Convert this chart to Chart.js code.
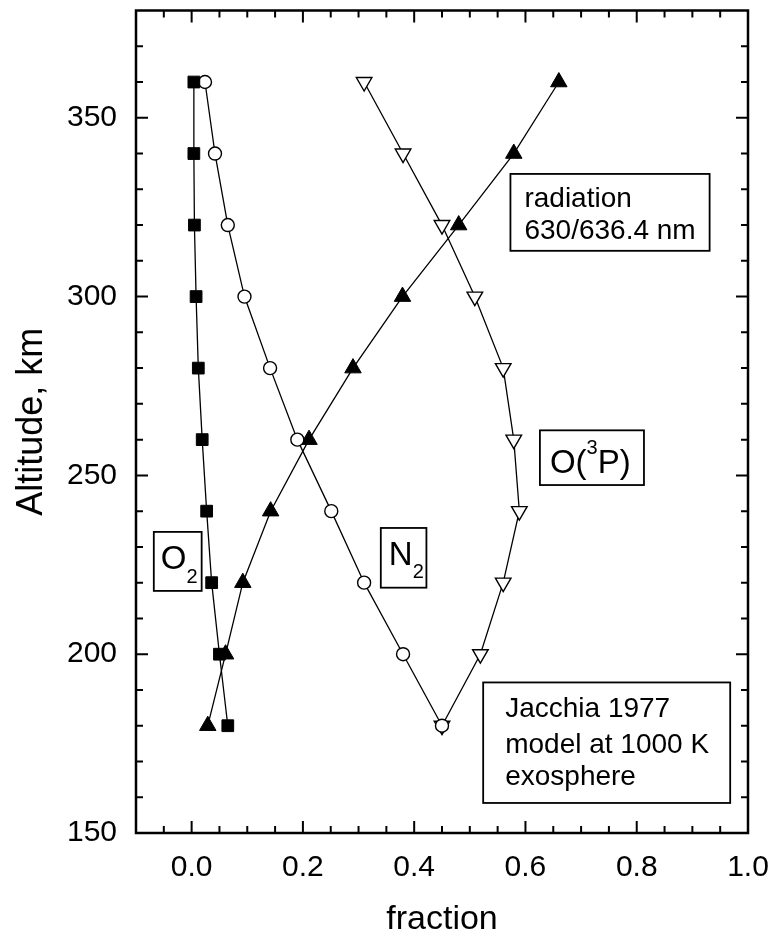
<!DOCTYPE html>
<html>
<head>
<meta charset="utf-8">
<script src="https://cdn.jsdelivr.net/npm/chart.js@4.4.1/dist/chart.umd.min.js"></script>
<style>
  html, body { margin: 0; padding: 0; background: #fff; }
  #wrap { width: 772px; height: 940px; }
</style>
</head>
<body>
<div id="wrap"><canvas id="chart" width="772" height="940"></canvas></div>
<script>
// altitude rows shared by all four profiles (km)
const altitudes = [360, 340, 320, 300, 280, 260, 240, 220, 200, 180];

// fractions, one value per altitude row
const o2Frac  = [0.004, 0.004, 0.005, 0.008, 0.012, 0.019, 0.027, 0.036, 0.050, 0.065];
const n2Frac  = [0.024, 0.042, 0.065, 0.095, 0.141, 0.190, 0.251, 0.310, 0.380, 0.450];
const radFrac = [0.660, 0.579, 0.480, 0.379, 0.290, 0.211, 0.142, 0.092, 0.061, 0.029];
const o3pFrac = [0.310, 0.380, 0.450, 0.509, 0.560, 0.579, 0.589, 0.560, 0.519, 0.450];

// axis tick labels
const xTicks = [0.0, 0.2, 0.4, 0.6, 0.8, 1.0];
const yTicks = [150, 200, 250, 300, 350];

const FONT = "'Liberation Sans', Arial, Helvetica, sans-serif";

// boxed annotations, corners given in data units
const notes = [
    { x0: 0.573, x1: 0.931, y0: 334.3, y1: 312.8, pad: 14,
      lines: [{ dy: 33, runs: [['radiation', 28, 0]] },
              { dy: 65, runs: [['630/636.4 nm', 28, 0]] }] },
    { x0: 0.626, x1: 0.813, y0: 262.6, y1: 247.3, pad: 10,
      lines: [{ dy: 43, runs: [['O(', 33, 0], ['3', 20, -19], ['P)', 33, 0]] }] },
    { x0: 0.524, x1: 0.968, y0: 192.1, y1: 158.4, pad: 22,
      lines: [{ dy: 35, runs: [['Jacchia 1977', 28, 0]] },
              { dy: 71, runs: [['model at 1000 K', 28, 0]] },
              { dy: 103, runs: [['exosphere', 28, 0]] }] },
    { x0: -0.068, x1: 0.018, y0: 234.2, y1: 217.7, pad: 7,
      lines: [{ dy: 37, runs: [['O', 33, 0], ['2', 20, 14]] }] },
    { x0: 0.340, x1: 0.422, y0: 235.3, y1: 218.6, pad: 8,
      lines: [{ dy: 37, runs: [['N', 33, 0], ['2', 20, 13]] }] }
];

function pts(fracs) {
    return fracs.map((f, i) => ({ x: f, y: altitudes[i] }));
}

// drop the label overhang padding so the plot box sits where the layout says
function noOverhang(s) {
    s.paddingTop = 0; s.paddingBottom = 0;
    s.paddingLeft = 0; s.paddingRight = 0;
}

// frame with inward ticks on all four sides, plus the text boxes
const frameAndNotes = {
    id: 'frameAndNotes',
    afterDatasetsDraw(chart) {
        const { ctx, chartArea: a, scales: { x, y } } = chart;
        ctx.save();
        ctx.strokeStyle = '#000';
        ctx.lineWidth = 2;
        ctx.beginPath();
        for (let k = -1; k < 20; k++) {
            const px = x.getPixelForValue(k * 0.05);
            const len = k % 4 === 0 ? 12 : 7;
            ctx.moveTo(px, a.bottom); ctx.lineTo(px, a.bottom - len);
            ctx.moveTo(px, a.top); ctx.lineTo(px, a.top + len);
        }
        for (let v = 160; v < 380; v += 10) {
            const py = y.getPixelForValue(v);
            const len = v % 50 === 0 ? 12 : 7;
            ctx.moveTo(a.left, py); ctx.lineTo(a.left + len, py);
            ctx.moveTo(a.right, py); ctx.lineTo(a.right - len, py);
        }
        ctx.stroke();
        ctx.lineWidth = 2.5;
        ctx.strokeRect(a.left, a.top, a.right - a.left, a.bottom - a.top);

        notes.forEach(n => {
            const l = x.getPixelForValue(n.x0), r = x.getPixelForValue(n.x1);
            const t = y.getPixelForValue(n.y0), b = y.getPixelForValue(n.y1);
            ctx.fillStyle = '#fff';
            ctx.fillRect(l, t, r - l, b - t);
            ctx.lineWidth = 1.8;
            ctx.strokeRect(l, t, r - l, b - t);
            ctx.fillStyle = '#000';
            ctx.textAlign = 'left';
            ctx.textBaseline = 'alphabetic';
            n.lines.forEach(line => {
                let cx = l + n.pad;
                line.runs.forEach(([txt, size, shift]) => {
                    ctx.font = size + 'px ' + FONT;
                    ctx.fillText(txt, cx, t + line.dy + shift);
                    cx += ctx.measureText(txt).width;
                });
            });
        });
        ctx.restore();
    }
};

new Chart(document.getElementById('chart'), {
    type: 'scatter',
    data: {
        datasets: [
            {
                label: 'O2',
                data: pts(o2Frac),
                showLine: true,
                borderColor: '#000',
                borderWidth: 1.3,
                pointStyle: 'rect',
                pointRadius: 8.3,
                pointBackgroundColor: '#000',
                pointBorderColor: '#000',
                pointBorderWidth: 1
            },
            {
                label: 'N2',
                data: pts(n2Frac),
                showLine: true,
                borderColor: '#000',
                borderWidth: 1.3,
                pointStyle: 'circle',
                pointRadius: 6.5,
                pointBackgroundColor: '#fff',
                pointBorderColor: '#000',
                pointBorderWidth: 1.4
            },
            {
                label: 'radiation',
                data: pts(radFrac),
                showLine: true,
                borderColor: '#000',
                borderWidth: 1.3,
                pointStyle: 'triangle',
                pointRadius: 9.5,
                pointBackgroundColor: '#000',
                pointBorderColor: '#000',
                pointBorderWidth: 1
            },
            {
                label: 'O(3P)',
                data: pts(o3pFrac),
                showLine: true,
                borderColor: '#000',
                borderWidth: 1.3,
                pointStyle: 'triangle',
                pointRotation: 180,
                pointRadius: 9,
                pointBackgroundColor: '#fff',
                pointBorderColor: '#000',
                pointBorderWidth: 1.4
            }
        ]
    },
    options: {
        responsive: false,
        animation: false,
        events: [],
        layout: { padding: { top: 8, right: 24, left: 0, bottom: 0 } },
        plugins: {
            legend: { display: false },
            tooltip: { enabled: false }
        },
        scales: {
            x: {
                type: 'linear',
                min: -0.1,
                max: 1.0,
                afterBuildTicks: s => { s.ticks = xTicks.map(v => ({ value: v })); },
                afterFit: s => { s.height = 107; noOverhang(s); },
                grid: { display: false },
                border: { display: false },
                ticks: {
                    color: '#000',
                    font: { family: FONT, size: 30 },
                    padding: 9,
                    maxRotation: 0,
                    autoSkip: false,
                    callback: v => v.toFixed(1)
                },
                title: {
                    display: true,
                    text: 'fraction',
                    color: '#000',
                    font: { family: FONT, size: 34, lineHeight: 1.0 },
                    padding: { top: 0, bottom: 3 }
                }
            },
            y: {
                type: 'linear',
                min: 150,
                max: 380,
                afterBuildTicks: s => { s.ticks = yTicks.map(v => ({ value: v })); },
                afterFit: s => { s.width = 136; noOverhang(s); },
                grid: { display: false },
                border: { display: false },
                ticks: {
                    color: '#000',
                    font: { family: FONT, size: 30 },
                    padding: 11,
                    autoSkip: false
                },
                title: {
                    display: true,
                    text: 'Altitude, km',
                    color: '#000',
                    font: { family: FONT, size: 36, lineHeight: 1.2 },
                    padding: { top: 10, bottom: 0 }
                }
            }
        }
    },
    plugins: [frameAndNotes]
});
</script>
</body>
</html>
